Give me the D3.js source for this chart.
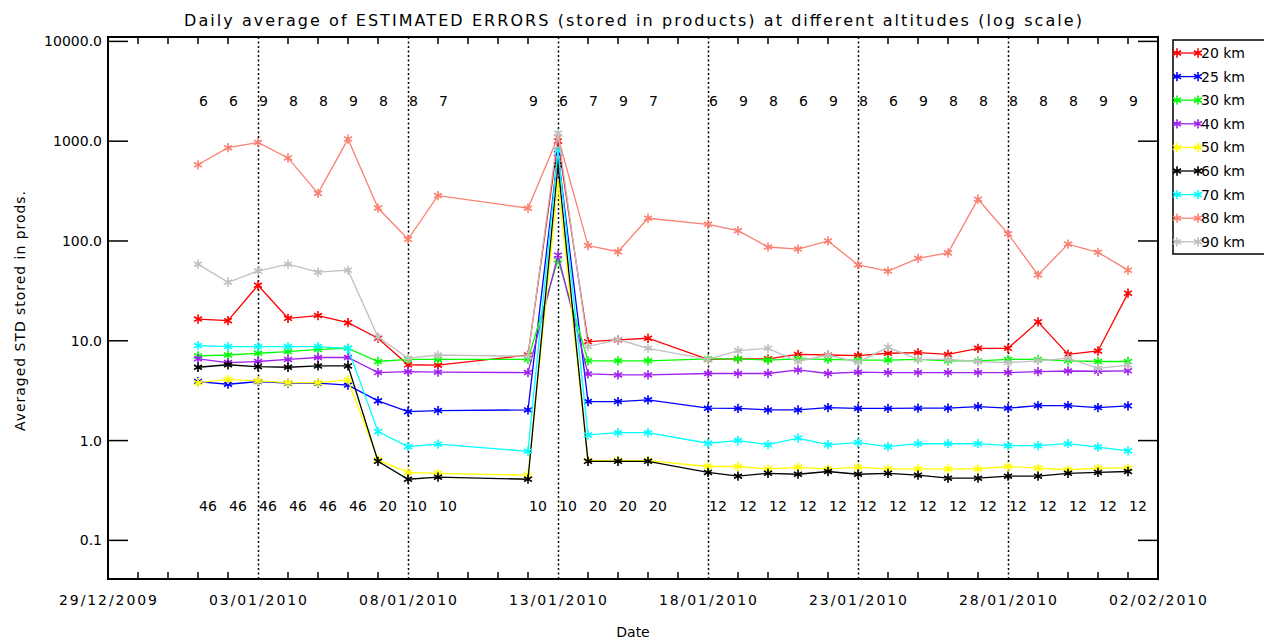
<!DOCTYPE html>
<html><head><meta charset="utf-8">
<script src="https://cdn.jsdelivr.net/npm/d3@7"></script>
<style>
body{margin:0;background:#fff;}
text{font-family:"DejaVu Sans",sans-serif;fill:#000;}
</style></head>
<body><svg id="c" width="1264" height="642"></svg>
<script>
const dates = ["2010-01-01","2010-01-02","2010-01-03","2010-01-04","2010-01-05","2010-01-06","2010-01-07","2010-01-08","2010-01-09",
"2010-01-12","2010-01-13","2010-01-14","2010-01-15","2010-01-16",
"2010-01-18","2010-01-19","2010-01-20","2010-01-21","2010-01-22","2010-01-23","2010-01-24","2010-01-25","2010-01-26","2010-01-27","2010-01-28","2010-01-29","2010-01-30","2010-01-31","2010-02-01"];
const topCounts = [6,6,9,8,8,9,8,8,7, 9,6,7,9,7, 6,9,8,6,9,8,6,9,8,8,8,8,8,9,9];
const bottomCounts = [46,46,46,46,46,46,20,10,10, 10,10,20,20,20, 12,12,12,12,12,12,12,12,12,12,12,12,12,12,12];
const s20 = [16.5,15.9,36,16.8,17.9,15.2,10.6,5.75,5.7, 7.2,1000,9.8,10.2,10.6, 6.5,6.6,6.6,7.3,7.2,7.1,7.5,7.6,7.3,8.4,8.4,15.5,7.3,7.9,30];
const s25 = [3.9,3.67,3.9,3.76,3.76,3.6,2.5,1.95,2.0, 2.03,750,2.46,2.46,2.56, 2.11,2.1,2.03,2.03,2.14,2.1,2.1,2.11,2.11,2.19,2.11,2.24,2.24,2.14,2.23];
const s30 = [7.05,7.2,7.5,7.8,8.2,8.4,6.2,6.5,6.5, 6.5,65,6.3,6.3,6.3, 6.6,6.6,6.4,6.6,6.5,6.4,6.4,6.5,6.3,6.3,6.5,6.5,6.3,6.2,6.2];
const s40 = [6.6,6.05,6.2,6.5,6.8,6.8,4.8,4.9,4.85, 4.8,72,4.65,4.55,4.55, 4.7,4.7,4.7,5.1,4.7,4.85,4.8,4.8,4.8,4.8,4.8,4.9,4.98,4.95,5.0];
const s50 = [3.8,4.1,3.96,3.8,3.8,4.05,0.64,0.48,0.47, 0.45,370,0.63,0.63,0.63, 0.55,0.55,0.52,0.54,0.52,0.54,0.52,0.52,0.52,0.52,0.55,0.53,0.51,0.53,0.53];
const s60 = [5.43,5.75,5.5,5.43,5.6,5.6,0.62,0.41,0.43, 0.41,580,0.62,0.62,0.62, 0.48,0.44,0.47,0.46,0.49,0.46,0.47,0.45,0.42,0.42,0.44,0.44,0.47,0.48,0.49];
const s70 = [8.95,8.75,8.75,8.75,8.75,8.4,1.23,0.87,0.92, 0.78,800,1.14,1.2,1.2, 0.94,1.0,0.91,1.06,0.91,0.955,0.87,0.93,0.93,0.93,0.89,0.89,0.93,0.86,0.79];
const s80 = [580,860,970,680,300,1050,214,104,285, 213,1100,90,78,169, 147,127,87,83,100,57.6,50,67,76,262,118,45.7,93,77,51];
const s90 = [58.6,38.6,50,58.6,48.7,51,10.9,6.7,7.2, 7.0,1200,8.75,10.3,8.4, 6.5,7.97,8.4,6.2,7.2,6.1,8.6,6.5,6.5,6.2,6.05,6.3,6.7,5.3,5.7];
const seriesNames = ["20 km","25 km","30 km","40 km","50 km","60 km","70 km","80 km","90 km"];
const seriesColors = ["#ff0000","#0000ff","#00ff00","#a020f0","#ffff00","#000000","#00ffff","#fa8072","#c0c0c0"];
const seriesValues = [s20,s25,s30,s40,s50,s60,s70,s80,s90];
const xTickLabels = ["2009-12-29","2010-01-03","2010-01-08","2010-01-13","2010-01-18","2010-01-23","2010-01-28","2010-02-02"];
const yTickValues = [0.1,1,10,100,1000,10000];

const svg = d3.select("#c");
const L=108, R=1158, T=37, B=579;
const parse = d3.utcParse("%Y-%m-%d");
const x = d3.scaleUtc().domain([parse("2009-12-29"), parse("2010-02-02")]).range([L,R]);
const y = d3.scaleLog().domain([Math.pow(10,-1.387), Math.pow(10,4.044)]).range([B,T]);
const dd = dates.map(parse);

// title
svg.append("text").attr("x",633).attr("y",26).attr("text-anchor","middle")
  .attr("font-size",16).attr("textLength",898).attr("lengthAdjust","spacing")
  .text("Daily average of ESTIMATED ERRORS (stored in products) at different altitudes (log scale)");

// dotted lines at major x ticks (interior)
const majors = xTickLabels.map(parse);
svg.append("g").selectAll("line").data(majors.slice(1,-1)).join("line")
  .attr("x1",d=>Math.round(x(d))+0.5).attr("x2",d=>Math.round(x(d))+0.5)
  .attr("y1",T).attr("y2",B).attr("stroke","#000").attr("stroke-width",1.5).attr("stroke-dasharray","2,2.5");

// daily minor ticks (top & bottom)
const days = d3.utcDay.range(parse("2009-12-30"), parse("2010-02-02"));
const fmtDay = d3.utcFormat("%Y-%m-%d");
const minorDays = days.filter(d=>!xTickLabels.includes(fmtDay(d)));
const gx = svg.append("g").attr("stroke","#000").attr("stroke-width",1.5);
gx.selectAll("line.b").data(minorDays).join("line").attr("class","b")
  .attr("x1",d=>x(d)).attr("x2",d=>x(d)).attr("y1",B).attr("y2",B-7);
gx.selectAll("line.t").data(minorDays).join("line").attr("class","t")
  .attr("x1",d=>x(d)).attr("x2",d=>x(d)).attr("y1",T).attr("y2",T+7);

// y ticks left and right
const gy = svg.append("g").attr("stroke","#000").attr("stroke-width",1.5);
gy.selectAll("line.l").data(yTickValues).join("line").attr("class","l")
  .attr("x1",L).attr("x2",L+20).attr("y1",d=>y(d)).attr("y2",d=>y(d));
gy.selectAll("line.r").data(yTickValues).join("line").attr("class","r")
  .attr("x1",R-20).attr("x2",R).attr("y1",d=>y(d)).attr("y2",d=>y(d));

// axis box
svg.append("rect").attr("x",L).attr("y",T).attr("width",R-L).attr("height",B-T)
  .attr("fill","none").attr("stroke","#000").attr("stroke-width",2);

// y tick labels
svg.append("g").selectAll("text").data(yTickValues).join("text")
  .attr("x",102).attr("y",d=>y(d)+5).attr("text-anchor","end").attr("font-size",14)
  .text(d=>d3.format(".1f")(d));
// x tick labels
const fmt = d3.utcFormat("%d/%m/%Y");
svg.append("g").selectAll("text").data(majors).join("text")
  .attr("x",d=>x(d)).attr("y",605).attr("text-anchor","middle").attr("font-size",14)
  .attr("textLength",98).attr("lengthAdjust","spacing")
  .text(d=>fmt(d));
// axis titles
svg.append("text").attr("x",633).attr("y",637).attr("text-anchor","middle").attr("font-size",14).text("Date");
svg.append("text").attr("transform","translate(25,311) rotate(-90)").attr("text-anchor","middle")
  .attr("font-size",14).attr("textLength",240).attr("lengthAdjust","spacing").text("Averaged STD stored in prods.");

// series
const line = d3.line().x((d,i)=>x(dd[i])).y(d=>y(d));
const sym = d3.symbol().type(d3.symbolAsterisk).size(60);
seriesValues.forEach((vals,k)=>{
  const g = svg.append("g");
  g.append("path").attr("d",line(vals)).attr("fill","none").attr("stroke",seriesColors[k]).attr("stroke-width",1.3);
  g.selectAll("path.m").data(vals).join("path").attr("class","m")
    .attr("transform",(d,i)=>`translate(${x(dd[i])},${y(d)})`)
    .attr("d",sym).attr("fill","none").attr("stroke",seriesColors[k]).attr("stroke-width",1.6);
});

// counts
svg.append("g").selectAll("text").data(topCounts).join("text")
  .attr("x",(d,i)=>x(dd[i])+1).attr("y",106).attr("font-size",14).text(d=>d);
svg.append("g").selectAll("text").data(bottomCounts).join("text")
  .attr("x",(d,i)=>x(dd[i])+1).attr("y",511).attr("font-size",14).text(d=>d);

// legend
const lg = svg.append("g");
lg.append("rect").attr("x",1173).attr("y",40).attr("width",92).attr("height",214)
  .attr("fill","#fff").attr("stroke","#000").attr("stroke-width",1.5);
seriesNames.forEach((n,k)=>{
  const yy = 53 + k*23.6;
  lg.append("line").attr("x1",1174).attr("x2",1198).attr("y1",yy).attr("y2",yy).attr("stroke",seriesColors[k]).attr("stroke-width",1.3);
  [1177,1198].forEach(xx=>lg.append("path").attr("transform",`translate(${xx},${yy})`).attr("d",sym)
     .attr("fill","none").attr("stroke",seriesColors[k]).attr("stroke-width",1.6));
  lg.append("text").attr("x",1201).attr("y",yy+5).attr("font-size",14).text(n);
});
</script></body></html>
